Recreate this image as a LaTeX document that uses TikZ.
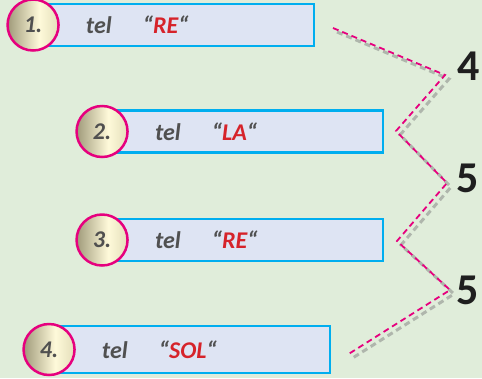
\documentclass[tikz,border=0pt]{standalone}
\usepackage{fontspec}
\setmainfont{Carlito}
\usetikzlibrary{positioning}
\definecolor{bggreen}{RGB}{224,237,218}
\definecolor{boxfill}{RGB}{222,228,243}
\definecolor{boxline}{RGB}{0,174,239}
\definecolor{ringpink}{RGB}{230,0,126}
\definecolor{notered}{RGB}{214,35,42}
\definecolor{txtgray}{RGB}{80,80,80}
\definecolor{knobdark}{RGB}{160,154,122}
\definecolor{knoblight}{RGB}{254,250,218}
\definecolor{knobedge}{RGB}{228,222,186}
\pgfdeclarehorizontalshading{knob}{100bp}{color(0bp)=(knobdark); color(25bp)=(knobdark);
  color(56bp)=(knoblight); color(75bp)=(knobedge); color(100bp)=(knobedge)}

\begin{document}
\begin{tikzpicture}[
  x=1bp, y=-1bp,
  notebox/.style={rectangle, draw=boxline, line width=2.2bp, fill=boxfill,
    minimum width=270bp, minimum height=42bp, inner sep=0pt},
  knobnode/.style={circle, draw=ringpink, line width=2.5bp, shading=knob,
    minimum size=51bp, inner sep=0pt, text=txtgray,
    font=\fontsize{24bp}{28bp}\selectfont\bfseries\itshape},
  notetext/.style={inner sep=0pt, text=txtgray,
    font=\fontsize{24bp}{28bp}\selectfont\bfseries\itshape},
  countlbl/.style={inner sep=0pt, text=black!88,
    font=\fontsize{44bp}{48bp}\selectfont\bfseries},
  zigline/.style={dashed, dash pattern=on 6bp off 4bp, line width=1.8bp, draw=ringpink},
  zigshadow/.style={dashed, dash pattern=on 6bp off 4bp, line width=3bp, draw=black!50, opacity=0.5}
]
% background
\fill[bggreen] (0,0) rectangle (482,378);
\useasboundingbox (0,0) rectangle (482,378);

% boxes
\node[notebox, anchor=east] (b1) at (315,25) {};
\node[notebox, anchor=east] (b2) at (384,131.5) {};
\node[notebox, anchor=east] (b3) at (384,240) {};
\node[notebox, anchor=east, minimum height=47bp] (b4) at (331,349.5) {};

% numbered circles
\node[knobnode, left=-17bp of b1] (c1) {1.};
\node[knobnode, left=-17bp of b2] (c2) {2.};
\node[knobnode, left=-17bp of b3] (c3) {3.};
\node[knobnode, left=-17bp of b4] (c4) {4.};

% notes
\node[notetext, right=26bp of c1] (t1) {tel\hspace{31bp}“\textcolor{notered}{RE}“};
\node[notetext, right=26bp of c2] (t2) {tel\hspace{31bp}“\textcolor{notered}{LA}“};
\node[notetext, right=26bp of c3] (t3) {tel\hspace{31bp}“\textcolor{notered}{RE}“};
\node[notetext, right=26bp of c4] (t4) {tel\hspace{31bp}“\textcolor{notered}{SOL}“};

% intervals
\node[countlbl] (n1) at (469,66) {4};
\node[countlbl] (n2) at (468,178) {5};
\node[countlbl] (n3) at (468,290) {5};

% zigzag
\coordinate (z0) at (333,28);
\coordinate (z1) at (445,75);
\coordinate (z2) at (396,131);
\coordinate (z3) at (447,183);
\coordinate (z4) at (397,241);
\coordinate (z5) at (450,290);
\coordinate (z6) at (347,355);
\draw[zigshadow, transform canvas={shift={(4bp,-4bp)}}]
  (z0) -- (z1) -- (z2) -- (z3) -- (z4) -- (z5) -- (z6);
\draw[zigline] (z0) -- (z1) -- (z2) -- (z3) -- (z4) -- (z5) -- (z6);
\end{tikzpicture}
\end{document}
